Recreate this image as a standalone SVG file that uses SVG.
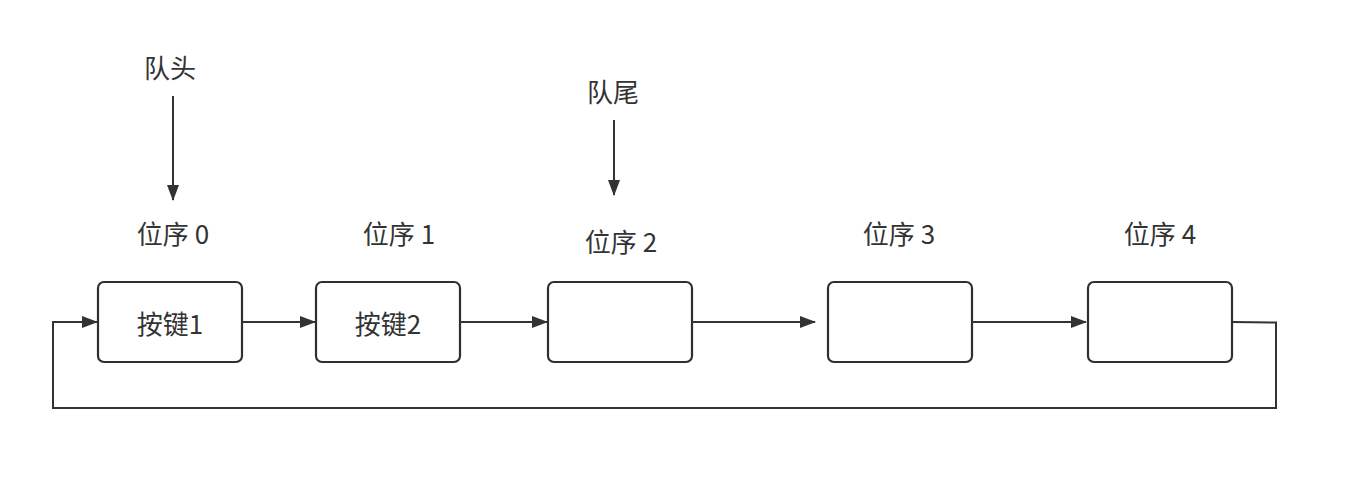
<svg xmlns="http://www.w3.org/2000/svg" width="1345" height="490" viewBox="0 0 1345 490">
<style>
.box{fill:#fff;stroke:#2c3034;stroke-width:2.2}
.lbl{font-family:"Noto Sans CJK SC","Noto Sans",sans-serif;font-size:26px;fill:#333;text-anchor:middle;dominant-baseline:central}
.edge{fill:none;stroke:#333;stroke-width:2}
</style>
<defs>
<marker id="arr" markerWidth="16" markerHeight="12" refX="15" refY="6" orient="auto" markerUnits="userSpaceOnUse">
<path d="M0,0 L16,6 L0,12 Z" fill="#333"/>
</marker>
</defs>
<rect width="1345" height="490" fill="#fff"/>
<g id="connectors">
<line class="edge" x1="173" y1="96" x2="173" y2="200" marker-end="url(#arr)"/>
<line class="edge" x1="614" y1="120" x2="614" y2="195" marker-end="url(#arr)"/>
<line class="edge" x1="242" y1="322" x2="315" y2="322" marker-end="url(#arr)"/>
<line class="edge" x1="460" y1="322" x2="547" y2="322" marker-end="url(#arr)"/>
<line class="edge" x1="692" y1="322" x2="815" y2="322" marker-end="url(#arr)"/>
<line class="edge" x1="972" y1="322" x2="1086" y2="322" marker-end="url(#arr)"/>
<polyline class="edge" points="1232,322 1276,322.5 1276,408 53,408 53,322 97,322" marker-end="url(#arr)"/>
</g>
<g id="head-label"><text class="lbl" x="170" y="66">队头</text></g>
<g id="tail-label"><text class="lbl" x="613" y="90">队尾</text></g>
<g id="node0"><text class="lbl" x="173" y="232">位序 0</text><rect class="box" x="98" y="282" width="144" height="80" rx="6"/><text class="lbl" x="170" y="322">按键1</text></g>
<g id="node1"><text class="lbl" x="399" y="232">位序 1</text><rect class="box" x="316" y="282" width="144" height="80" rx="6"/><text class="lbl" x="388" y="322">按键2</text></g>
<g id="node2"><text class="lbl" x="621" y="240">位序 2</text><rect class="box" x="548" y="282" width="144" height="80" rx="6"/></g>
<g id="node3"><text class="lbl" x="899" y="232">位序 3</text><rect class="box" x="828" y="282" width="144" height="80" rx="6"/></g>
<g id="node4"><text class="lbl" x="1160" y="232">位序 4</text><rect class="box" x="1088" y="282" width="144" height="80" rx="6"/></g>
</svg>
